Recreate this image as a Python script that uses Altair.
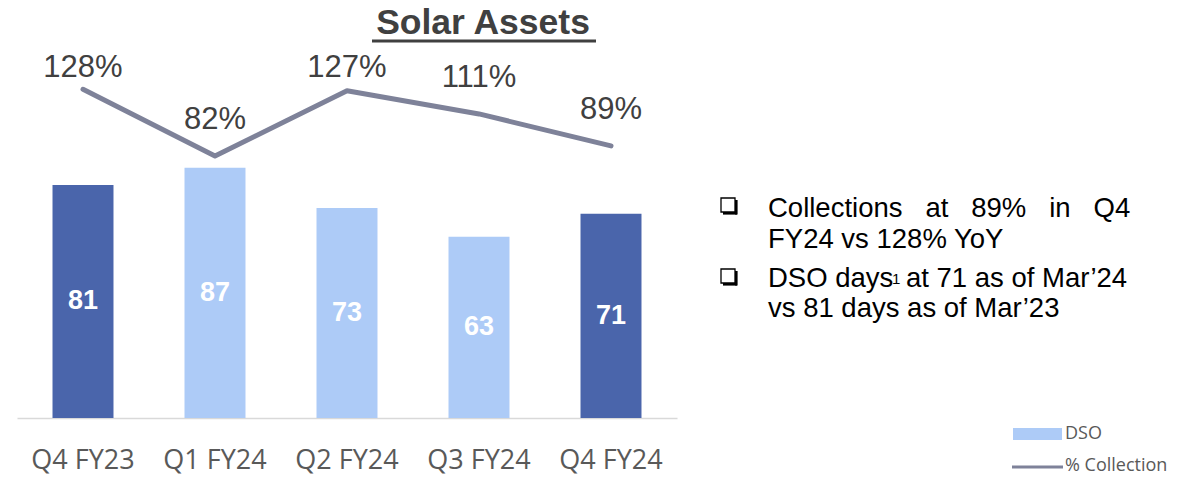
import altair as alt
import pandas as pd

quarters = ["Q4 FY23", "Q1 FY24", "Q2 FY24", "Q3 FY24", "Q4 FY24"]
dso = [81, 87, 73, 63, 71]
collection = [128, 82, 127, 111, 89]
bar_group = ["Q4", "Other", "Other", "Other", "Q4"]

df = pd.DataFrame({"Quarter": quarters, "DSO": dso, "Collection": collection, "Group": bar_group})

NB = "\u00a0"
x = alt.X(
    "Quarter:N", sort=quarters,
    scale=alt.Scale(paddingInner=0, paddingOuter=0),
    axis=alt.Axis(title=None, labelAngle=0, ticks=False, labelPadding=50,
                  labelBaseline="alphabetic", labelFont="Open Sans", labelFontSize=27,
                  labelColor="#595959", domainColor="#d9d9d9", domainWidth=1.5,
                  grid=False),
)
bar_scale = alt.Scale(domain=[0, 124.4], nice=False, zero=False)
line_scale = alt.Scale(domain=[-98.7, 148.2], nice=False, zero=False)

base = alt.Chart(df)
bars = base.mark_bar(width=alt.RelativeBandSize(0.462)).encode(
    x=x,
    y=alt.Y("DSO:Q", scale=bar_scale, axis=None),
    color=alt.Color("Group:N", scale=alt.Scale(domain=["Q4", "Other"], range=["#4A65AB", "#ADCBF7"]), legend=None),
)
bar_labels = base.transform_calculate(mid="datum.DSO / 2").mark_text(
    font="Liberation Sans", fontWeight="bold", fontSize=27, color="white", baseline="middle"
).encode(x=x, y=alt.Y("mid:Q", scale=bar_scale, axis=None), text="DSO:Q")

line = base.mark_line(color="#7E8299", strokeWidth=5, strokeCap="round", strokeJoin="round").encode(
    x=x, y=alt.Y("Collection:Q", scale=line_scale, axis=None)
)
line_labels = base.transform_calculate(
    ly="min(datum.Collection + 24.5, 142.7)", lt="datum.Collection + '%'"
).mark_text(font="Liberation Sans", fontSize=31, color="#404040", baseline="middle").encode(
    x=x, y=alt.Y("ly:Q", scale=line_scale, axis=None), text="lt:N"
)

one = alt.Data(values=[{"a": 1}])


def txt(s, px, py, size, color="black", font="Liberation Sans", weight="normal", align="left", baseline="alphabetic"):
    return alt.Chart(one).mark_text(
        font=font, fontSize=size, color=color, fontWeight=weight, align=align, baseline=baseline
    ).encode(x=alt.value(px), y=alt.value(py), text=alt.value(s))


def rule(x1, x2, y1, y2, w, color="black"):
    return alt.Chart(one).mark_rule(color=color, strokeWidth=w).encode(
        x=alt.value(x1), x2=alt.value(x2), y=alt.value(y1), y2=alt.value(y2)
    )


def bullet(px, py):
    box = alt.Chart(one).mark_rect(fill="white", stroke="black", strokeWidth=1.3).encode(
        x=alt.value(px), x2=alt.value(px + 14), y=alt.value(py), y2=alt.value(py + 14)
    )
    return [box, rule(px + 2, px + 16, py + 15.3, py + 15.3, 2.6), rule(px + 15.3, px + 15.3, py + 2, py + 16.5, 2.6)]


title = txt("Solar Assets", 466, -26, 35.5, color="#404040", weight="bold", align="center")
underline = rule(355, 579, -19, -19, 3, color="#404040")

gap = NB * 3
notes = [
    *bullet(704, 138),
    txt("Collections" + gap + "at" + gap + "89%" + gap + "in" + gap + "Q4", 751, 157, 27.5),
    txt("FY24 vs 128% YoY", 751, 188, 27.5),
    *bullet(704, 209),
    txt("DSO days", 751, 227, 27.5),
    txt("1", 875, 212, 15, baseline="top"),
    txt("at 71 as of Mar’24", 889, 227, 27.5),
    txt("vs 81 days as of Mar’23", 751, 257, 27.5),
]

legend_rect = alt.Chart(one).mark_rect(color="#ADCBF7").encode(
    x=alt.value(996), x2=alt.value(1045), y=alt.value(368), y2=alt.value(380)
)
legend_line = rule(995, 1046, 407, 407, 3, color="#7E8299")
legend_texts = [
    txt("DSO", 1048, 374, 18, color="#595959", font="Open Sans", baseline="middle"),
    txt("% Collection", 1048, 406, 18, color="#595959", font="Open Sans", baseline="middle"),
]

chart = alt.layer(
    bars, bar_labels, line, line_labels, title, underline, *notes,
    legend_rect, legend_line, *legend_texts
).resolve_scale(y="independent").properties(
    width=660, height=358,
    padding={"left": 9, "top": 52, "right": 511, "bottom": 57},
    autosize=alt.AutoSizeParams(type="none"),
    background="white",
).configure_view(strokeWidth=0, stroke="transparent")

chart.save("out.html", embed_options={"renderer": "svg", "actions": False})
